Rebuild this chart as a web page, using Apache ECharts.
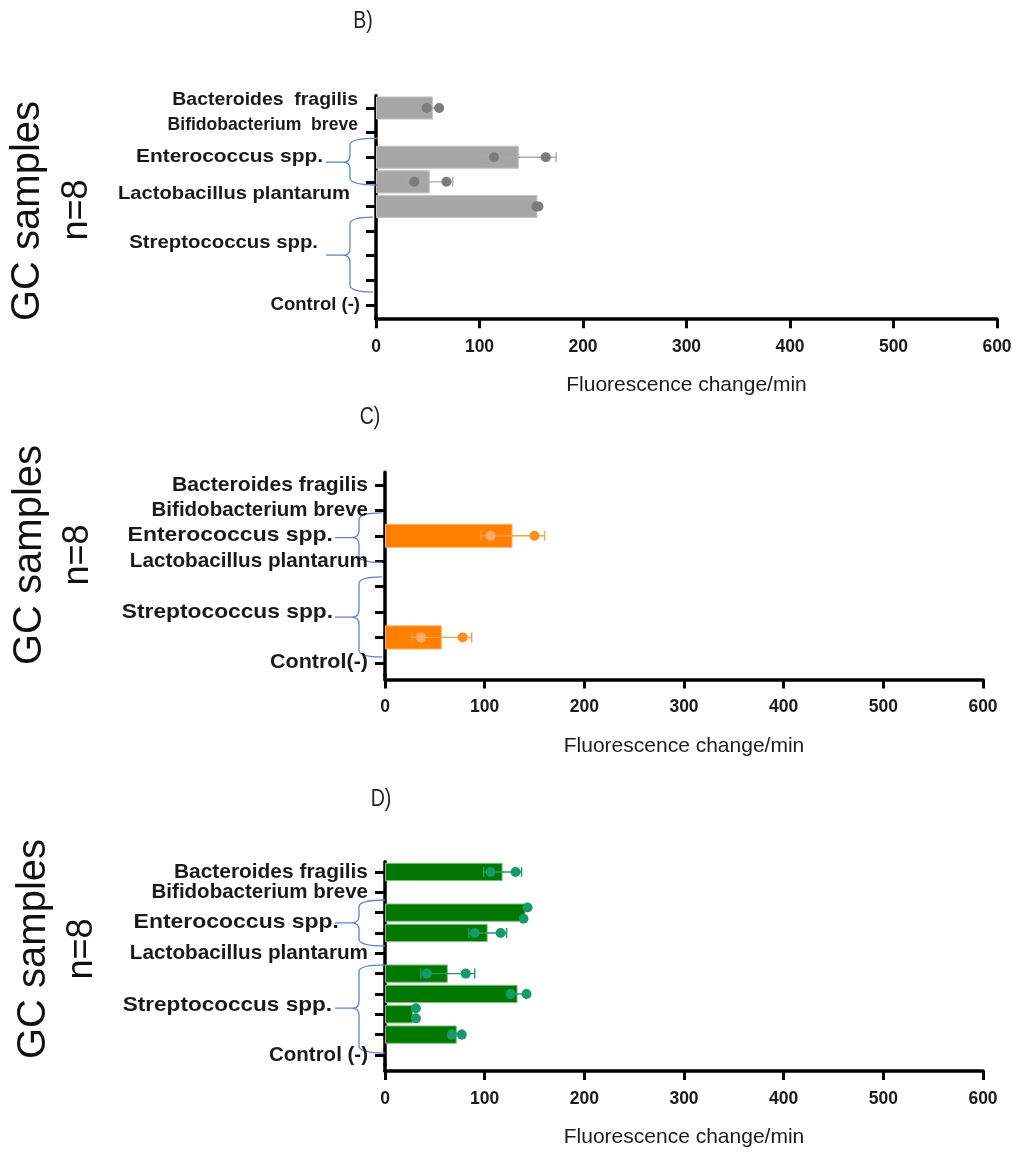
<!DOCTYPE html>
<html>
<head>
<meta charset="utf-8">
<script src="https://cdn.jsdelivr.net/npm/echarts@6/dist/echarts.min.js"></script>
<style>
html,body{margin:0;padding:0;background:#fff;}
#chart{width:1016px;height:1153px;}
</style>
</head>
<body>
<div id="chart"></div>
<script>
// ---------------- DATA ----------------
const xMin = 0, xMax = 600, xStep = 100;   // ticks 0,100,...,600
const axisTitle = 'Fluorescence change/min';
const sideTitle = 'GC samples';
const sideN = 'n=8';

// Panel B (grey)
const catsB = ['Bacteroides fragilis','Bifidobacterium breve','Enterococcus spp. 1','Enterococcus spp. 2',
  'Lactobacillus plantarum','Streptococcus spp. 1','Streptococcus spp. 2','Streptococcus spp. 3','Control (-)'];
const meanB = [55, null, 138, 52, 156, null, null, null, null];
const sdB   = [6, 0, 36, 22, 1, 0, 0, 0, 0];
const dotsB = [[49,61], [], [114,164], [37,68], [155,157], [], [], [], []];
const labelsB = ['Bacteroides  fragilis','Bifidobacterium  breve','Enterococcus spp.','Lactobacillus plantarum','Streptococcus spp.','Control (-)'];

// Panel C (orange)
const catsC = ['Bacteroides fragilis','Bifidobacterium breve','Enterococcus spp.','Lactobacillus plantarum',
  'Streptococcus spp. 1','Streptococcus spp. 2','Streptococcus spp. 3','Control(-)'];
const meanC = [null, null, 128, null, null, null, 57, null];
const sdC   = [0, 0, 32, 0, 0, 0, 30, 0];
const dotsC = [[], [], [106,150], [], [], [], [36,78], []];
const labelsC = ['Bacteroides fragilis','Bifidobacterium breve','Enterococcus spp.','Lactobacillus plantarum','Streptococcus spp.','Control(-)'];

// Panel D (green)
const catsD = ['Bacteroides fragilis','Bifidobacterium breve','Enterococcus spp. 1','Enterococcus spp. 2',
  'Lactobacillus plantarum','Streptococcus spp. 1','Streptococcus spp. 2','Streptococcus spp. 3','Streptococcus spp. 4','Control (-)'];
const meanD = [118, null, 141, 103, null, 63, 133, 28, 72, null];
const sdD   = [19, 0, 2, 19, 0, 27, 8, 1, 5, 0];
const dotsD = [[106,131], [], [143,139], [90,116], [], [42,81], [126,142], [31,31], [67,77], []];
const labelsD = ['Bacteroides fragilis','Bifidobacterium breve','Enterococcus spp.','Lactobacillus plantarum','Streptococcus spp.','Control (-)'];

// ---------------- LAYOUT / STYLE ----------------
const SANS = "'Liberation Sans',Arial,sans-serif";

const panels = [
  { key:'B', cats:catsB, mean:meanB, sd:sdB, dots:dotsB, labels:labelsB,
    labelAt:[-0.33, 0.7, 2.0, 3.5, 5.5, 8], labelRight:[18,18,53,26,58,16],
    labelScale:[1.05, 0.95, 1.13, 1.09, 1.1, 1],
    jitter:[],
    braces:[[1.22,3.13,2.2,2],[4.43,7.48,5.98,-3]],
    grid:{left:376, right:19, top:95.7, height:221.5}, offset:2,
    bar:'#a6a6a6', barBorder:'#c4c4c4', dotIn:'#7c7c7c', dotOut:'#7c7c7c', err:'#a9a9a9',
    labelFont:18.5, gap:'6%',
    title:'B)', titlePos:[363,22], gc:[28,211], n:[77,210] },
  { key:'C', cats:catsC, mean:meanC, sd:sdC, dots:dotsC, labels:labelsC,
    labelAt:[0,1,2,3,5,7], labelRight:[17,17,52,17,52,17],
    labelScale:[1.03, 1, 1.12, 1.01, 1.11, 1.05],
    jitter:[],
    braces:[[1.1,3.05,2.07,-3],[3.62,6.77,5.2,-3]],
    grid:{left:385, right:33, top:472.3, height:203.2}, offset:4,
    bar:'#ff8000', barBorder:'#ffb266', dotIn:'#ffad66', dotOut:'#f7901f', err:'#ff9d45',
    labelFont:20.5, gap:'5%',
    title:'C)', titlePos:[370,418], gc:[30,555], n:[78,555] },
  { key:'D', cats:catsD, mean:meanD, sd:sdD, dots:dotsD, labels:labelsD,
    labelAt:[0,1,2.5,4,6.55,9], labelRight:[17,17,46,17,53,17],
    labelScale:[1.02, 1, 1.12, 1.01, 1.1, 1],
    jitter:[[],[],[-0.25,0.3],[],[],[],[],[-0.3,0.2],[],[]],
    braces:[[1.38,3.64,2.5,0],[4.57,8.9,6.7,0]],
    grid:{left:385, right:33, top:861.8, height:203.3}, offset:6,
    bar:'#007800', barBorder:'#7fbf7f', dotIn:'#169a6a', dotOut:'#169a6a', err:'#1c9a6c',
    labelFont:20.5, gap:'10%',
    title:'D)', titlePos:[381,800], gc:[34,949], n:[82,949] }
];

// ---------------- OPTION ----------------
const grids = [], xAxes = [], yAxes = [], series = [];
panels.forEach((p, i) => {
  grids.push(Object.assign({containLabel:false}, p.grid));
  xAxes.push({
    type:'value', gridIndex:i, min:xMin, max:xMax, interval:xStep, offset:p.offset,
    axisLine:{show:true, lineStyle:{color:'#000', width:3.5}},
    axisTick:{show:true, length:9, lineStyle:{color:'#000', width:3}},
    splitLine:{show:false},
    axisLabel:{color:'#1a1a1a', fontFamily:SANS, fontWeight:'bold', fontSize:17.5, margin:19},
    name:axisTitle, nameLocation:'middle', nameGap:56,
    nameTextStyle:{color:'#1a1a1a', fontFamily:SANS, fontSize:21}
  });
  yAxes.push({
    type:'category', gridIndex:i, data:p.cats, inverse:true,
    axisLine:{show:true, onZero:false, lineStyle:{color:'#000', width:3.5}},
    axisTick:{show:true, alignWithLabel:true, length:10, lineStyle:{color:'#000', width:3}},
    axisLabel:{show:false},
    splitLine:{show:false}
  });
  series.push({
    type:'bar', xAxisIndex:i, yAxisIndex:i, data:p.mean,
    barCategoryGap:p.gap,
    itemStyle:{color:p.bar, borderColor:p.barBorder, borderWidth:1},
    z:2, silent:true
  });
  // error bars
  const errData = [];
  p.mean.forEach((m, k) => { if (m != null && p.sd[k] > 3) errData.push([m, k, p.sd[k]]); });
  series.push({
    type:'custom', xAxisIndex:i, yAxisIndex:i, data:errData, z:3, silent:true,
    encode:{x:0, y:1},
    renderItem:(params, api) => {
      const m = api.value(0), k = api.value(1), s = api.value(2);
      const a = api.coord([m - s, k]), b = api.coord([m + s, k]);
      const h = 5;
      const st = {stroke:p.err, lineWidth:1.4, fill:null};
      return {type:'group', children:[
        {type:'line', shape:{x1:a[0], y1:a[1], x2:b[0], y2:b[1]}, style:st},
        {type:'line', shape:{x1:a[0], y1:a[1]-h, x2:a[0], y2:a[1]+h}, style:st},
        {type:'line', shape:{x1:b[0], y1:b[1]-h, x2:b[0], y2:b[1]+h}, style:st}
      ]};
    }
  });
  // individual points
  const dotData = [];
  p.dots.forEach((arr, k) => arr.forEach((v, j) => {
    const jt = (p.jitter[k] && p.jitter[k][j]) || 0;
    dotData.push([v, k, jt, p.mean[k] == null ? 0 : p.mean[k]]);
  }));
  series.push({
    type:'custom', xAxisIndex:i, yAxisIndex:i, data:dotData, z:4, silent:true,
    encode:{x:0, y:1},
    renderItem:(params, api) => {
      const v = api.value(0), k = api.value(1), jt = api.value(2), m = api.value(3);
      const c0 = api.coord([v, k]), c1 = api.coord([v, k + 1]);
      const y = c0[1] + (c1[1] - c0[1]) * jt;
      return {type:'circle', shape:{cx:c0[0], cy:y, r:5}, style:{fill: v < m - 2 ? p.dotIn : p.dotOut}};
    }
  });
  // curly group braces (drawn in category-index space of the y axis)
  series.push({
    type:'custom', xAxisIndex:i, yAxisIndex:i, z:5, silent:true, clip:false,
    data:p.braces.map(b => [0, 0, b[0], b[1], b[2], b[3]]),
    encode:{x:0, y:1},
    renderItem:(params, api) => {
      const c0 = api.coord([0, 0]), c1 = api.coord([0, 1]);
      const yOf = idx => c0[1] + (c1[1] - c0[1]) * idx;
      const axisX = c0[0];
      const top = yOf(api.value(2)), bot = yOf(api.value(3)), mid = yOf(api.value(4));
      const endX = axisX + api.value(5), spX = axisX - 26, tipX = axisX - 50, r = 7;
      const d = 'M' + endX + ' ' + top +
        ' Q' + spX + ' ' + top + ' ' + spX + ' ' + (top + r) +
        ' L' + spX + ' ' + (mid - r) +
        ' Q' + spX + ' ' + mid + ' ' + (spX - r) + ' ' + mid +
        ' L' + tipX + ' ' + mid +
        ' M' + (spX - r) + ' ' + mid +
        ' Q' + spX + ' ' + mid + ' ' + spX + ' ' + (mid + r) +
        ' L' + spX + ' ' + (bot - r) +
        ' Q' + spX + ' ' + bot + ' ' + endX + ' ' + bot;
      return {type:'path', shape:{pathData:d}, style:{stroke:'#5b84d6', lineWidth:1.3, fill:null}};
    }
  });
});

const chart = echarts.init(document.getElementById('chart'), null, {renderer:'canvas'});
chart.setOption({
  backgroundColor:'#fff', animation:false,
  grid:grids, xAxis:xAxes, yAxis:yAxes, series:series
});

// ---------------- TEXT ANNOTATIONS (positions from the library's scales) ----------------
const graphics = [];
panels.forEach((p, i) => {
  const p0 = chart.convertToPixel({gridIndex:i}, [0, 0]);
  const p1 = chart.convertToPixel({gridIndex:i}, [0, 1]);
  const axisX = p0[0];
  const yOf = idx => p0[1] + (p1[1] - p0[1]) * idx;
  const band = p1[1] - p0[1];
  const gridBottom = yOf(p.cats.length - 1) + band / 2;
  graphics.push({type:'line', shape:{x1:axisX, y1:gridBottom - 2, x2:axisX, y2:gridBottom + p.offset + 1},
    style:{stroke:'#000', lineWidth:3.5}, z:10});
  p.labels.forEach((t, j) => {
    graphics.push({type:'text', x:axisX - p.labelRight[j], y:yOf(p.labelAt[j]), scaleX:p.labelScale[j],
      style:{text:t, textAlign:'right', textVerticalAlign:'middle', fill:'#1a1a1a',
        font:'bold ' + p.labelFont + 'px ' + SANS}, z:10});
  });
  graphics.push({type:'text', x:p.titlePos[0], y:p.titlePos[1], scaleX:0.85,
    style:{text:p.title, textAlign:'center', textVerticalAlign:'middle', fill:'#222', font:'23px ' + SANS}, z:10});
  graphics.push({type:'text', x:p.gc[0], y:p.gc[1], rotation:Math.PI/2,
    style:{text:sideTitle, textAlign:'center', textVerticalAlign:'middle', fill:'#111', font:'40px ' + SANS}, z:10});
  graphics.push({type:'text', x:p.n[0], y:p.n[1], rotation:Math.PI/2,
    style:{text:sideN, textAlign:'center', textVerticalAlign:'middle', fill:'#111', font:'36px ' + SANS}, z:10});
});
chart.setOption({graphic:graphics});
</script>
</body>
</html>
